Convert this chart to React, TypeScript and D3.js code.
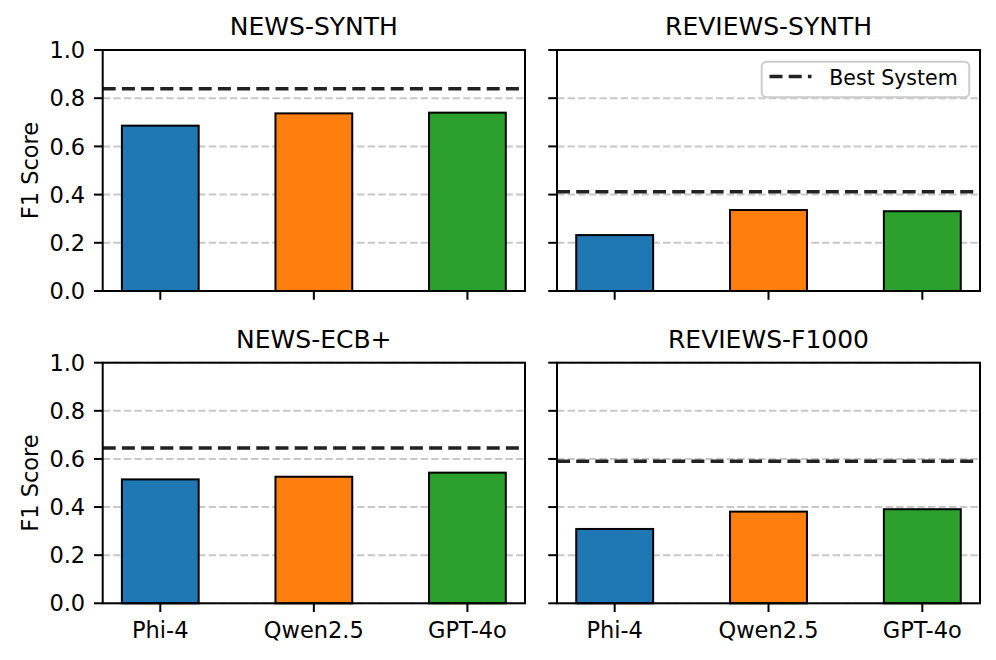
import React from "react";
import * as d3 from "d3";

const models = ["Phi-4", "Qwen2.5", "GPT-4o"];
const colors = ["#1f77b4", "#ff7f0e", "#2ca02c"];
const panelTitles = ["NEWS-SYNTH", "REVIEWS-SYNTH", "NEWS-ECB+", "REVIEWS-F1000"];
const newsSynth = [0.686, 0.737, 0.74];
const reviewsSynth = [0.232, 0.336, 0.331];
const newsEcb = [0.515, 0.526, 0.543];
const reviewsF1000 = [0.309, 0.381, 0.391];
const bestSystem = [0.839, 0.412, 0.645, 0.59];
const yTicks = [0, 0.2, 0.4, 0.6, 0.8, 1.0];
const panelValues = [newsSynth, reviewsSynth, newsEcb, reviewsF1000];

const W = 996;
const H = 660;
const colX = [[102.7, 525], [557, 980]];
const rowY = [[50, 291], [362.7, 603.3]];
const FONT = "DejaVu Sans, sans-serif";
const TICK = 8.75;

function Panel({ idx }: { idx: number }) {
  const row = Math.floor(idx / 2);
  const col = idx % 2;
  const [x0, x1] = colX[col];
  const [y0, y1] = rowY[row];
  const x = d3.scaleLinear().domain([-0.375, 2.375]).range([x0, x1]);
  const y = d3.scaleLinear().domain([0, 1]).range([y1, y0]);
  const vals = panelValues[idx];
  const bw = x(0.5) - x(0);
  return (
    <g>
      {/* grid */}
      {yTicks.map((t) => (
        <line key={"g" + t} x1={x0} x2={x1} y1={y(t)} y2={y(t)} stroke="#b0b0b0" strokeOpacity={0.7} strokeWidth={2} strokeDasharray="7.4,3.2" />
      ))}
      {/* bars */}
      {vals.map((v, i) => (
        <rect key={"b" + i} x={x(i) - bw / 2} y={y(v)} width={bw} height={y(0) - y(v)} fill={colors[i]} stroke="#000" strokeWidth={2} />
      ))}
      {/* best system line */}
      <line x1={x0} x2={x1} y1={y(bestSystem[idx])} y2={y(bestSystem[idx])} stroke="#222" strokeWidth={3.5} strokeDasharray="13,6.2" />
      {/* spines */}
      <rect x={x0} y={y0} width={x1 - x0} height={y1 - y0} fill="none" stroke="#000" strokeWidth={2} />
      {/* y ticks */}
      {yTicks.map((t) => (
        <g key={"yt" + t}>
          <line x1={x0 - TICK} x2={x0} y1={y(t)} y2={y(t)} stroke="#000" strokeWidth={2} />
          {col === 0 && (
            <text x={x0 - TICK - 8.75} y={y(t)} dy="0.36em" textAnchor="end" fontSize={22.5} fontFamily={FONT} fill="#000">
              {t.toFixed(1)}
            </text>
          )}
        </g>
      ))}
      {/* x ticks */}
      {models.map((m, i) => (
        <g key={"xt" + i}>
          <line x1={x(i)} x2={x(i)} y1={y1} y2={y1 + TICK} stroke="#000" strokeWidth={2} />
          {row === 1 && (
            <text x={x(i)} y={y1 + TICK + 8.75} dy="0.76em" textAnchor="middle" fontSize={22.5} fontFamily={FONT} fill="#000">
              {m}
            </text>
          )}
        </g>
      ))}
      {/* title */}
      <text x={(x0 + x1) / 2} y={y0 - 15} textAnchor="middle" fontSize={25} fontFamily={FONT} fill="#000">
        {panelTitles[idx]}
      </text>
      {col === 0 && (
        <text transform={`translate(38,${(y0 + y1) / 2}) rotate(-90)`} textAnchor="middle" fontSize={22.5} fontFamily={FONT} fill="#000">
          F1 Score
        </text>
      )}
      {idx === 1 && (
        <g>
          <rect x={761.7} y={61.7} width={207.6} height={35.6} rx={5} ry={5} fill="#fff" fillOpacity={0.8} stroke="#cccccc" strokeWidth={2} />
          <line x1={769.5} x2={811.5} y1={76.5} y2={76.5} stroke="#222" strokeWidth={3.5} strokeDasharray="13,6.2" />
          <text x={829.3} y={85} fontSize={20.5} fontFamily={FONT} fill="#000">
            Best System
          </text>
        </g>
      )}
    </g>
  );
}

export default function App() {
  return (
    <svg width={W} height={H} style={{ position: "absolute", left: 0, top: 0, background: "#fff" }}>
      <rect x={0} y={0} width={W} height={H} fill="#fff" />
      {[0, 1, 2, 3].map((i) => (
        <Panel key={i} idx={i} />
      ))}
    </svg>
  );
}
